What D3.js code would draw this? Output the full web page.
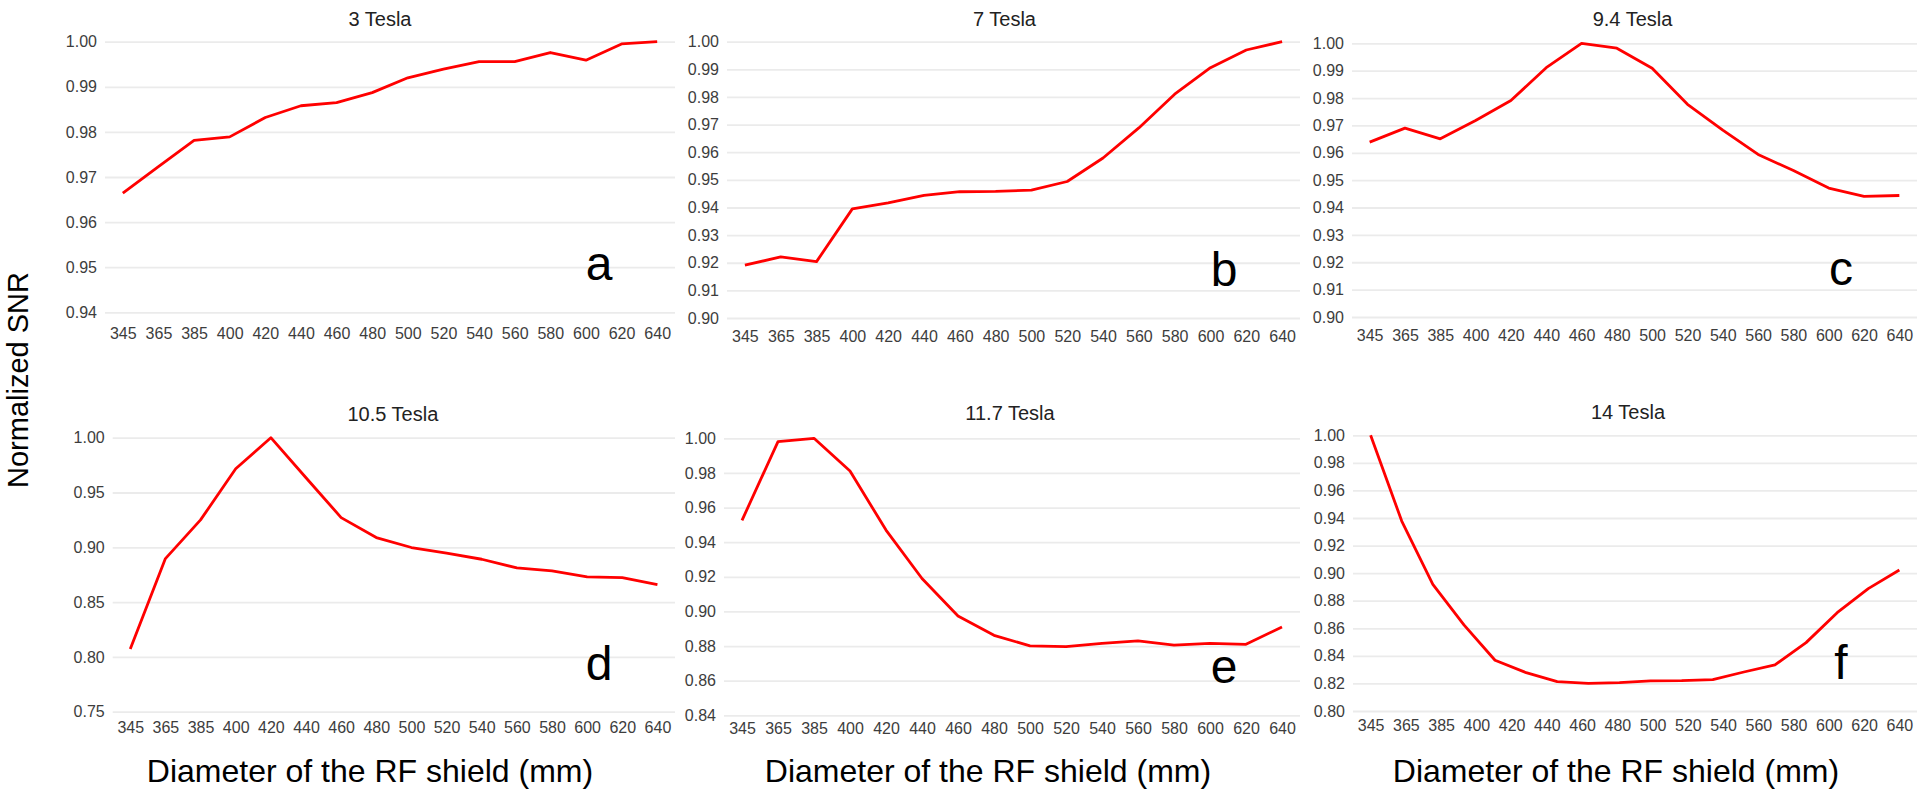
<!DOCTYPE html>
<html>
<head>
<meta charset="utf-8">
<script src="https://cdn.jsdelivr.net/npm/d3@7"></script>
<style>
  html, body { margin: 0; padding: 0; background: #ffffff; }
  svg { display: block; }
  text { font-family: "Liberation Sans", Arial, Helvetica, sans-serif; }
</style>
</head>
<body>
<svg id="chart" width="1920" height="796"></svg>
<script>
// ---------------- data ----------------
const diameters = ["345","365","385","400","420","440","460","480","500","520","540","560","580","600","620","640"];

const panelTitles = ["3 Tesla", "7 Tesla", "9.4 Tesla", "10.5 Tesla", "11.7 Tesla", "14 Tesla"];
const panelLetters = ["a", "b", "c", "d", "e", "f"];

const snr3T   = [0.9664, 0.9723, 0.9781, 0.9789, 0.9832, 0.9858, 0.9865, 0.9887, 0.9920, 0.9939, 0.9956, 0.9956, 0.9976, 0.9959, 0.9995, 1.0000];
const snr7T   = [0.9191, 0.9221, 0.9204, 0.9395, 0.9417, 0.9444, 0.9457, 0.9458, 0.9463, 0.9494, 0.9579, 0.9688, 0.9810, 0.9906, 0.9970, 1.0000];
const snr94T  = [0.9639, 0.9690, 0.9651, 0.9718, 0.9791, 0.9911, 1.0000, 0.9982, 0.9909, 0.9777, 0.9683, 0.9594, 0.9535, 0.9471, 0.9441, 0.9444];
const snr105T = [0.8071, 0.8897, 0.9250, 0.9717, 1.0000, 0.9635, 0.9271, 0.9089, 0.8998, 0.8946, 0.8891, 0.8812, 0.8785, 0.8730, 0.8724, 0.8660];
const snr117T = [0.9526, 0.9981, 1.0000, 0.9811, 0.9470, 0.9190, 0.8974, 0.8862, 0.8801, 0.8797, 0.8816, 0.8830, 0.8805, 0.8816, 0.8810, 0.8910];
const snr14T  = [1.0000, 0.9378, 0.8919, 0.8625, 0.8368, 0.8278, 0.8213, 0.8201, 0.8206, 0.8218, 0.8220, 0.8227, 0.8283, 0.8334, 0.8496, 0.8713, 0.8888, 0.9023];

const yTicks3T   = [0.94, 0.95, 0.96, 0.97, 0.98, 0.99, 1.00];
const yTicks7T   = [0.90, 0.91, 0.92, 0.93, 0.94, 0.95, 0.96, 0.97, 0.98, 0.99, 1.00];
const yTicks94T  = [0.90, 0.91, 0.92, 0.93, 0.94, 0.95, 0.96, 0.97, 0.98, 0.99, 1.00];
const yTicks105T = [0.75, 0.80, 0.85, 0.90, 0.95, 1.00];
const yTicks117T = [0.84, 0.86, 0.88, 0.90, 0.92, 0.94, 0.96, 0.98, 1.00];
const yTicks14T  = [0.80, 0.82, 0.84, 0.86, 0.88, 0.90, 0.92, 0.94, 0.96, 0.98, 1.00];

const yAxisTitle = "Normalized SNR";
const xAxisTitle = "Diameter of the RF shield (mm)";

// ---------------- layout ----------------
const series = [snr3T, snr7T, snr94T, snr105T, snr117T, snr14T];
const tickSets = [yTicks3T, yTicks7T, yTicks94T, yTicks105T, yTicks117T, yTicks14T];

const layout = [
  { x0: 105,   x1: 675,  yTop: 41.7,  yBot: 312.3, titleY: 26,  titleDx: -10, xPad: 15 },
  { x0: 727,   x1: 1300, yTop: 41.7,  yBot: 318,   titleY: 26,  titleDx: -9,  xPad: 13 },
  { x0: 1352,  x1: 1917, yTop: 43.3,  yBot: 317,   titleY: 26,  titleDx: -2,  xPad: 13 },
  { x0: 112.7, x1: 675,  yTop: 437.7, yBot: 711.7, titleY: 421, titleDx: -1,  xPad: 10 },
  { x0: 724,   x1: 1300, yTop: 438.3, yBot: 715.3, titleY: 420, titleDx: -2,  xPad: 7 },
  { x0: 1353,  x1: 1917, yTop: 435.3, yBot: 711,   titleY: 419, titleDx: -7,  xPad: 9 }
];

const svg = d3.select("#chart");

series.forEach((vals, i) => {
  const L = layout[i];
  const ticks = tickSets[i];
  const g = svg.append("g");

  const x = d3.scalePoint().domain(diameters).range([L.x0, L.x1]).padding(0.5);
  const y = d3.scaleLinear().domain([d3.min(ticks), d3.max(ticks)]).range([L.yBot, L.yTop]);
  const xi = d3.scaleLinear().domain([0, vals.length - 1])
    .range([x(diameters[0]), x(diameters[diameters.length - 1])]);

  // gridlines + y tick labels
  const yAxis = g.append("g")
    .attr("transform", `translate(${L.x0},0)`)
    .call(d3.axisLeft(y).tickValues(ticks).tickFormat(d3.format(".2f"))
      .tickSize(-(L.x1 - L.x0)).tickPadding(8));
  yAxis.select(".domain").remove();
  yAxis.selectAll(".tick line").attr("stroke", "#ebebeb").attr("stroke-width", 1.8);
  yAxis.selectAll(".tick text")
    .attr("font-size", 16).attr("fill", "#3d3d3d")
    .attr("font-family", "'Liberation Sans', Arial, sans-serif");

  // x tick labels
  const xAxis = g.append("g")
    .attr("transform", `translate(0,${L.yBot})`)
    .call(d3.axisBottom(x).tickSize(0).tickPadding(L.xPad));
  xAxis.select(".domain").remove();
  xAxis.selectAll(".tick text")
    .attr("font-size", 16).attr("fill", "#3d3d3d")
    .attr("font-family", "'Liberation Sans', Arial, sans-serif");

  // line
  const line = d3.line().x((d, k) => xi(k)).y(d => y(d));
  g.append("path").datum(vals)
    .attr("d", line)
    .attr("fill", "none")
    .attr("stroke", "#ff0000")
    .attr("stroke-width", 2.8)
    .attr("stroke-linejoin", "round");

  // panel title
  g.append("text")
    .attr("x", (L.x0 + L.x1) / 2 + L.titleDx)
    .attr("y", L.titleY)
    .attr("text-anchor", "middle")
    .attr("font-size", 20)
    .attr("fill", "#222")
    .text(panelTitles[i]);

  // panel letter
  g.append("text")
    .attr("x", L.x1 - 76)
    .attr("y", L.yBot - 32)
    .attr("text-anchor", "middle")
    .attr("font-size", 48)
    .attr("fill", "#000")
    .text(panelLetters[i]);
});

// x axis titles (one per column)
const xTitleCenters = [370, 988, 1616];
xTitleCenters.forEach(cx => {
  svg.append("text")
    .attr("x", cx).attr("y", 782)
    .attr("text-anchor", "middle")
    .attr("font-size", 32)
    .attr("fill", "#000")
    .text(xAxisTitle);
});

// y axis title
svg.append("text")
  .attr("transform", "translate(28,380) rotate(-90)")
  .attr("text-anchor", "middle")
  .attr("font-size", 29)
  .attr("fill", "#000")
  .text(yAxisTitle);
</script>
</body>
</html>
